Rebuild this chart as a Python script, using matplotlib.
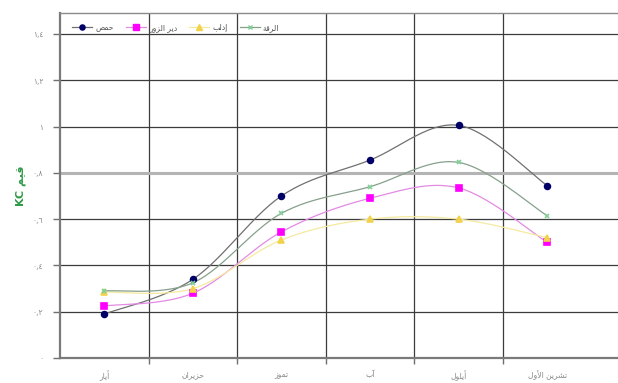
import numpy as np
import matplotlib
matplotlib.use('Agg')
import matplotlib.pyplot as plt
from matplotlib.lines import Line2D

# ---------------------------------------------------------------------------
# Data: monthly KC values for four sites

months = ['أيار', 'حزيران', 'تموز', 'آب', 'أيلول', 'تشرين الأول']
sites = ['حمص', 'دير الزور', 'إدلب', 'الرقة']

kc_homs = [0.19, 0.34, 0.70, 0.855, 1.005, 0.745]
kc_deir = [0.225, 0.28, 0.545, 0.69, 0.735, 0.50]
kc_idlib = [0.285, 0.30, 0.51, 0.60, 0.60, 0.52]
kc_raqqa = [0.29, 0.325, 0.625, 0.74, 0.845, 0.615]

yticks = [0, 0.2, 0.4, 0.6, 0.8, 1.0, 1.2, 1.4]
ytick_labels = ['٠', '٠,٢', '٠,٤', '٠,٦', '٠,٨', '١', '١,٢', '١,٤']

# ---------------------------------------------------------------------------
# matplotlib has no Arabic shaping, so join the letters with presentation
# forms and put them in visual (left-to-right) order.

FORMS = {  # isolated, final, initial, medial
    'ا': (0xFE8D, 0xFE8E), 'أ': (0xFE83, 0xFE84), 'إ': (0xFE87, 0xFE88),
    'آ': (0xFE81, 0xFE82), 'د': (0xFEA9, 0xFEAA), 'ر': (0xFEAD, 0xFEAE),
    'ز': (0xFEAF, 0xFEB0), 'و': (0xFEED, 0xFEEE), 'ة': (0xFE93, 0xFE94),
    'ب': (0xFE8F, 0xFE90, 0xFE91, 0xFE92), 'ت': (0xFE95, 0xFE96, 0xFE97, 0xFE98),
    'ح': (0xFEA1, 0xFEA2, 0xFEA3, 0xFEA4), 'ش': (0xFEB5, 0xFEB6, 0xFEB7, 0xFEB8),
    'ص': (0xFEB9, 0xFEBA, 0xFEBB, 0xFEBC), 'ق': (0xFED5, 0xFED6, 0xFED7, 0xFED8),
    'ل': (0xFEDD, 0xFEDE, 0xFEDF, 0xFEE0), 'م': (0xFEE1, 0xFEE2, 0xFEE3, 0xFEE4),
    'ن': (0xFEE5, 0xFEE6, 0xFEE7, 0xFEE8), 'ي': (0xFEF1, 0xFEF2, 0xFEF3, 0xFEF4),
}
LAM_ALEF = {'ا': (0xFEFB, 0xFEFC), 'أ': (0xFEF7, 0xFEF8),
            'إ': (0xFEF9, 0xFEFA), 'آ': (0xFEF5, 0xFEF6)}


def ar(text):
    # merge lam + alef into one unit first
    units = []
    i = 0
    while i < len(text):
        c = text[i]
        if c == 'ل' and i + 1 < len(text) and text[i + 1] in LAM_ALEF:
            units.append(('LA', text[i + 1]))
            i += 2
        else:
            units.append(('C', c))
            i += 1

    def joins_left(u):  # can connect to the following letter
        kind, c = u
        return kind == 'C' and c in FORMS and len(FORMS[c]) == 4

    def joins_right(u):  # can connect to the preceding letter
        kind, c = u
        return kind == 'LA' or c in FORMS

    out = []
    for k, u in enumerate(units):
        prev = units[k - 1] if k > 0 else None
        nxt = units[k + 1] if k + 1 < len(units) else None
        p = prev is not None and joins_left(prev) and joins_right(u)
        kind, c = u
        if kind == 'LA':
            out.append(chr(LAM_ALEF[c][1 if p else 0]))
            continue
        if c not in FORMS:
            out.append(c)
            continue
        f = FORMS[c]
        n = nxt is not None and len(f) == 4 and joins_right(nxt)
        if p and n:
            out.append(chr(f[3]))
        elif n:
            out.append(chr(f[2]))
        elif p:
            out.append(chr(f[1]))
        else:
            out.append(chr(f[0]))
    return ''.join(reversed(out))


def smooth(xs, ys, n=30):
    # Catmull-Rom curve through the points (like spreadsheet "smoothed line")
    x = np.asarray(xs, float)
    y = np.asarray(ys, float)
    px = np.concatenate([[x[0]], x, [x[-1]]])
    py = np.concatenate([[y[0]], y, [y[-1]]])
    t = np.linspace(0, 1, n)
    cx, cy = [], []
    for i in range(1, len(px) - 2):
        for p, c in ((px, cx), (py, cy)):
            p0, p1, p2, p3 = p[i - 1], p[i], p[i + 1], p[i + 2]
            c.extend(0.5 * (2 * p1 + (-p0 + p2) * t
                            + (2 * p0 - 5 * p1 + 4 * p2 - p3) * t ** 2
                            + (-p0 + 3 * p1 - 3 * p2 + p3) * t ** 3))
    return cx, cy


# ---------------------------------------------------------------------------

plt.rcParams['font.family'] = ['DejaVu Sans']

fig = plt.figure(figsize=(6.18, 3.83), dpi=100)
ax = fig.add_axes([0.097, 0.065, 0.903, 0.901])

x = np.arange(len(months))
series = [
    (kc_homs, '#000066', '#707070', 'o', 4.2),
    (kc_deir, '#ff00ff', '#e38ae3', 's', 4.2),
    (kc_idlib, '#f2d24a', '#f5eaa0', '^', 4.2),
    (kc_raqqa, '#7fcf96', '#86a08c', 'x', 3.2),
]

handles = []
for (vals, mcol, lcol, mk, ms), name in zip(series, sites):
    sx, sy = smooth(x, vals)
    ax.plot(sx, sy, color=lcol, lw=0.9, zorder=3)
    ax.plot(x, vals, ls='none', marker=mk, ms=ms, color=mcol,
            mec=mcol, mew=1.2, zorder=4)
    handles.append(Line2D([], [], color=lcol, lw=0.9, marker=mk, ms=ms - 0.5,
                          mfc=mcol, mec=mcol, label=ar(name)))

ax.set_xlim(-0.5, 5.8)
ax.set_ylim(0, 1.49)

# gridlines between the month categories, and at every y tick
for gx in np.arange(0.5, 5.0, 1.0):
    ax.axvline(gx, color='#3c3c3c', lw=0.9, zorder=1)
for gy in yticks[1:]:
    ax.axhline(gy, color='#3c3c3c', lw=0.9, zorder=1)
ax.axhline(0.8, color='#b4b4b4', lw=2.2, zorder=1)

ax.set_yticks(yticks)
ax.set_yticklabels(ytick_labels)
ax.set_xticks(x)
ax.set_xticklabels([ar(m) for m in months])
ax.tick_params(axis='y', length=5, width=1, color='#707070',
               labelsize=5.5, labelcolor='#8a8a8a', pad=7)
ax.tick_params(axis='x', length=0, labelsize=5.5, labelcolor='#8a8a8a', pad=9)
ax.set_xticks(np.arange(0.5, 5.0, 1.0), minor=True)
ax.tick_params(axis='x', which='minor', length=4, width=1, color='#707070')

for side in ('left', 'bottom'):
    ax.spines[side].set_color('#7a7a7a')
    ax.spines[side].set_linewidth(1.6)
ax.spines['top'].set_color('#8a8a8a')
ax.spines['top'].set_linewidth(1.0)
ax.spines['right'].set_visible(False)

ax.set_ylabel('KC ' + ar('قيم'), color='#2f9a47', fontsize=8,
              fontweight='bold', labelpad=5)

ax.legend(handles=handles, loc='center left', bbox_to_anchor=(0.01, 0.958),
          ncol=4, frameon=False, fontsize=5.5, handlelength=2.6,
          columnspacing=1.6, handletextpad=0.4, labelcolor='#555555')

fig.savefig('out.png', dpi=100)
